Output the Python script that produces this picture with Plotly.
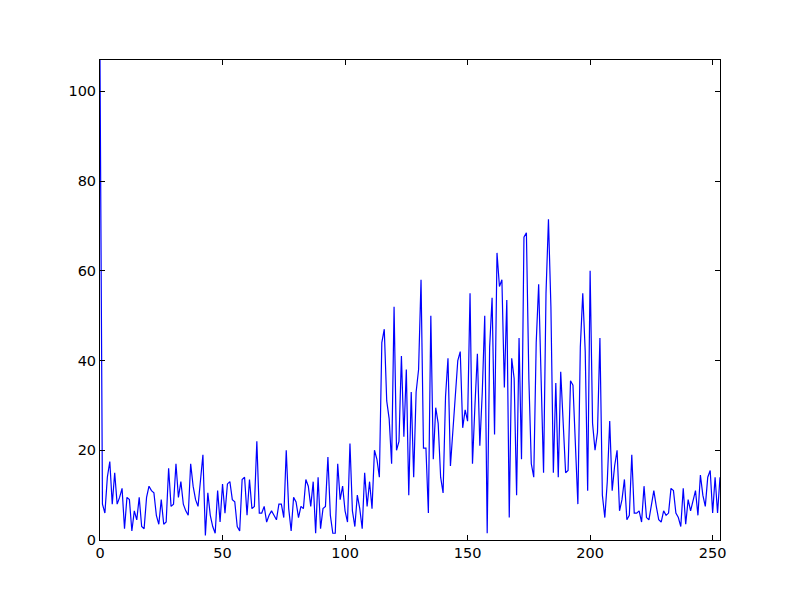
import plotly.graph_objects as go

values = [107, 8, 6, 14, 17.5, 8, 15, 8, 9.5, 11.5,
          2.5, 9.5, 9, 2, 6.5, 4.5, 9.5, 3, 2.5, 9.5,
          12, 11, 10.5, 5.5, 3.5, 9, 3.5, 4, 16, 7.5,
          8, 17, 9.5, 13, 8, 6.5, 5.5, 17, 12, 9,
          7.5, 13, 19, 1, 10.5, 5.5, 3, 1.5, 11, 4,
          12.5, 6, 12.5, 13, 9, 8.5, 3, 2, 13.5, 14,
          5.5, 13.5, 7, 7.5, 22, 6, 6, 7.5, 4, 5.5,
          6.5, 5.5, 4.5, 8, 8, 5, 20, 7, 2, 9.5,
          8.5, 5, 7.5, 7, 13.5, 12, 7.5, 13, 1.5, 14,
          2.5, 7, 7.5, 18.5, 5.5, 1.5, 1.5, 17, 9, 12,
          6.5, 4, 21.5, 6.5, 3, 10, 7, 2.5, 15, 7.5,
          13, 7, 20, 18, 14, 44, 47, 31, 27, 17,
          52, 20, 22, 41, 23, 38, 10, 33, 14, 33,
          38, 58, 20.5, 20.5, 6, 50, 18, 29.5, 26, 14,
          10.5, 32, 40.5, 16.5, 24, 33, 40, 42, 25, 29,
          26.5, 55, 17, 30, 41.5, 21, 33, 50, 1.5, 43,
          54, 23.5, 64, 56.5, 58, 34, 53.5, 5, 40.5, 36,
          10, 45, 18, 67.5, 68.5, 36, 17, 14, 44, 57,
          33, 15, 55, 71.5, 52, 15, 35, 14, 37.5, 26,
          15, 15.5, 35.5, 34.5, 19, 8, 43, 55, 42, 11,
          60, 26, 20, 24, 45, 10, 5, 13, 26.5, 11,
          16.5, 20, 6.5, 9, 13.5, 4.5, 5.5, 19, 6, 6,
          6.5, 4, 12, 5, 4.5, 8, 11, 7.5, 4.5, 4,
          6.5, 5.5, 6, 11.5, 11, 6, 5, 3, 11.5, 3.5,
          9, 6.5, 9, 11, 5.5, 14.5, 10, 7.5, 14, 15.5,
          6, 14, 6, 14]
x_index = list(range(len(values)))
x_ticks = [0, 50, 100, 150, 200, 250]
y_ticks = [0, 20, 40, 60, 80, 100]

fig = go.Figure()
fig.add_trace(go.Scatter(x=x_index, y=values, mode="lines",
                         line=dict(color="#0000ff", width=1.2),
                         showlegend=False, hoverinfo="skip"))

axis_common = dict(showgrid=False, zeroline=False, showline=True,
                   linecolor="black", linewidth=1, mirror="ticks",
                   ticks="inside", ticklen=5, tickwidth=1, tickcolor="black",
                   automargin=False,
                   tickfont=dict(family="DejaVu Sans", size=14.5, color="black"))

fig.update_layout(
    width=800, height=600,
    margin=dict(l=92, r=88, t=52, b=68),
    paper_bgcolor="white", plot_bgcolor="white",
    xaxis=dict(range=[0, len(values) - 1], tickvals=x_ticks, **axis_common),
    yaxis=dict(range=[0, max(values)], tickvals=y_ticks, **axis_common),
)

fig.write_html("out.html")
